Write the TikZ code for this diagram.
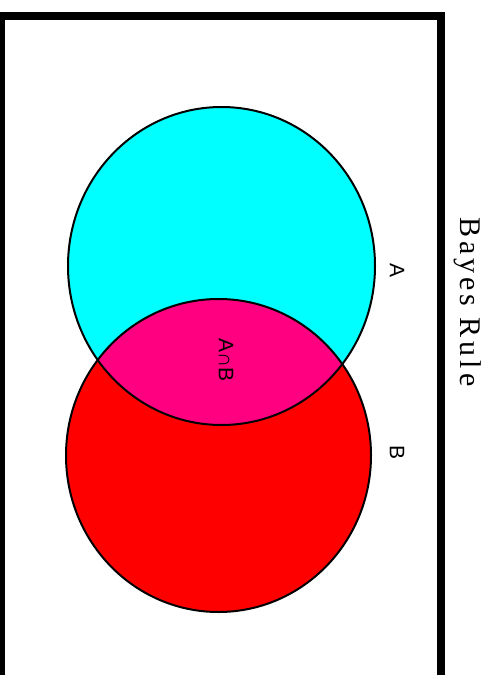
\documentclass[tikz,border=0pt]{standalone}
\usepackage{fontspec}
\setmainfont{Liberation Serif}
\newfontfamily\labelfont{Liberation Sans}
\definecolor{setA}{HTML}{00FFFF}
\definecolor{setB}{HTML}{FF0000}
\definecolor{setAB}{HTML}{FF0080}
\begin{document}
\begin{tikzpicture}[x=1pt,y=-1pt,
  outline/.style={draw=black,line width=2pt},
  setlabel/.style={font=\labelfont\fontsize{21}{21}\selectfont,rotate=-90,inner sep=0pt},
  titletext/.style={font=\fontsize{30}{30}\selectfont\addfontfeature{LetterSpace=13},rotate=-90,inner sep=0pt}]
\useasboundingbox (0,0) rectangle (491,675);
\clip (0,0) rectangle (491,675);
\fill[white] (0,0) rectangle (491,675);
% frame
\draw[line width=8pt] (1,690) -- (1,15.5) -- (441,15.5) -- (441,690);
% sets
\fill[setA] (221.5,266) ellipse [x radius=153.5pt, y radius=159pt];
\fill[setB] (218.5,455.5) ellipse [x radius=152.5pt, y radius=156.5pt];
\begin{scope}
  \clip (221.5,266) ellipse [x radius=153.5pt, y radius=159pt];
  \fill[setAB] (218.5,455.5) ellipse [x radius=152.5pt, y radius=156.5pt];
\end{scope}
\draw[outline] (221.5,266) ellipse [x radius=153.5pt, y radius=159pt];
\draw[outline] (218.5,455.5) ellipse [x radius=152.5pt, y radius=156.5pt];
% labels
\node[setlabel] (labA) at (397,270) {A};
\node[setlabel] (labB) at (397,452) {B};
\node[setlabel] (labAB) at (226,360) {A∩B};
\node[titletext] (title) at (468,302) {Bayes Rule};
\end{tikzpicture}
\end{document}
